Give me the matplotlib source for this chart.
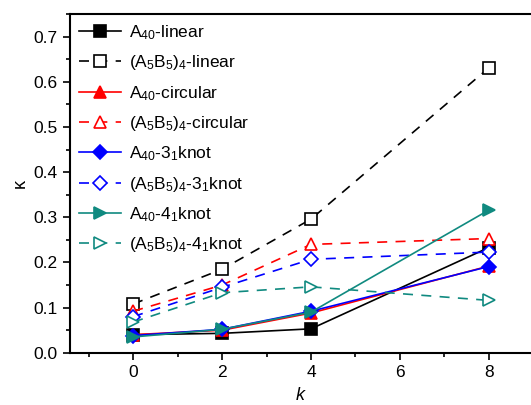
import matplotlib
matplotlib.use("Agg")
import matplotlib.pyplot as plt
from matplotlib.ticker import MultipleLocator

plt.rcParams['font.family'] = ['Liberation Sans', 'DejaVu Sans']
plt.rcParams['mathtext.fontset'] = 'custom'
plt.rcParams['mathtext.rm'] = 'Liberation Sans'
plt.rcParams['mathtext.it'] = 'Liberation Sans:italic'

k = [0, 2, 4, 8]
a40_linear = [0.040, 0.043, 0.053, 0.233]
ab_linear = [0.108, 0.185, 0.296, 0.631]
a40_circular = [0.040, 0.050, 0.088, 0.192]
ab_circular = [0.092, 0.150, 0.240, 0.253]
a40_31 = [0.038, 0.052, 0.092, 0.191]
ab_31 = [0.080, 0.145, 0.207, 0.223]
a40_41 = [0.035, 0.052, 0.090, 0.316]
ab_41 = [0.068, 0.133, 0.146, 0.116]

labels = [r'A$\mathregular{_{40}}$-linear',
          r'(A$\mathregular{_5}$B$\mathregular{_5}$)$\mathregular{_4}$-linear',
          r'A$\mathregular{_{40}}$-circular',
          r'(A$\mathregular{_5}$B$\mathregular{_5}$)$\mathregular{_4}$-circular',
          r'A$\mathregular{_{40}}$-3$\mathregular{_1}$knot',
          r'(A$\mathregular{_5}$B$\mathregular{_5}$)$\mathregular{_4}$-3$\mathregular{_1}$knot',
          r'A$\mathregular{_{40}}$-4$\mathregular{_1}$knot',
          r'(A$\mathregular{_5}$B$\mathregular{_5}$)$\mathregular{_4}$-4$\mathregular{_1}$knot']

teal = '#108a80'
series = [
    (a40_linear, 'black', 's', '-', True),
    (ab_linear, 'black', 's', (0, (6, 5)), False),
    (a40_circular, 'red', '^', '-', True),
    (ab_circular, 'red', '^', (0, (6, 5)), False),
    (a40_31, 'blue', 'D', '-', True),
    (ab_31, 'blue', 'D', (0, (6, 5)), False),
    (a40_41, teal, '>', '-', True),
    (ab_41, teal, '>', (0, (6, 5)), False),
]

fig = plt.figure(figsize=(5.31, 4.05), dpi=100)
ax = fig.add_axes([0.132, 0.129, 0.868, 0.836])

for (vals, c, m, ls, filled), lab in zip(series, labels):
    ms = 8.5 if m in ('s', '^', '>') else 7
    ax.plot(k, vals, color=c, linestyle=ls, linewidth=1.2, marker=m,
            markersize=ms, markerfacecolor=c if filled else 'white',
            markeredgecolor=c, markeredgewidth=1.2, label=lab)

ax.set_xlim(-1.42, 8.95)
ax.set_ylim(0, 0.75)
ax.xaxis.set_minor_locator(MultipleLocator(1))
ax.yaxis.set_minor_locator(MultipleLocator(0.05))
ax.set_xticks([0, 2, 4, 6, 8])
ax.set_yticks([0.0, 0.1, 0.2, 0.3, 0.4, 0.5, 0.6, 0.7])
ax.set_yticklabels(['0.0', '0.1', '0.2', '0.3', '0.4', '0.5', '0.6', '0.7'])
ax.tick_params(which='major', direction='out', length=5, width=1.2, labelsize=12.5, pad=4)
ax.tick_params(which='minor', direction='out', length=3, width=1.2)
ax.spines['right'].set_visible(False)
for s in ('left', 'bottom', 'top'):
    ax.spines[s].set_linewidth(1.5)

ax.set_xlabel('k', fontsize=13, style='italic', labelpad=5)
ax.set_ylabel('κ', fontsize=13, labelpad=3)

leg = ax.legend(loc='upper left', frameon=False, fontsize=12.5, handlelength=2.4,
                labelspacing=0.66, borderaxespad=0.12, handletextpad=0.45,
                bbox_to_anchor=(0.0, 1.0))

fig.savefig('out.png', dpi=100)
